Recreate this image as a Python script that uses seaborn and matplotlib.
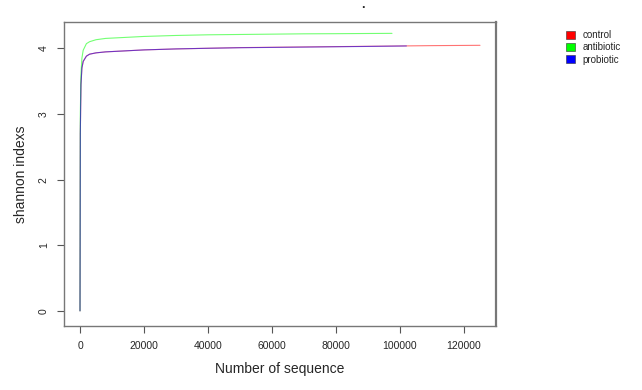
import numpy as np
import pandas as pd
import matplotlib
matplotlib.use("Agg")
import matplotlib.pyplot as plt
import seaborn as sns
from matplotlib.patches import Patch

# rarefaction curves
control_x = [1, 100, 300, 600, 1000, 2000, 3000, 5000, 8000, 12000, 20000, 30000,
             40000, 50000, 60000, 70000, 80000, 90000, 100000, 110000, 125000]
control_y = [0.0, 2.7, 3.45, 3.7, 3.8, 3.88, 3.91, 3.93, 3.945, 3.955, 3.975, 3.99,
             4.0, 4.01, 4.015, 4.02, 4.025, 4.03, 4.035, 4.04, 4.045]

antibiotic_x = [1, 100, 300, 600, 1000, 2000, 3000, 5000, 8000, 12000, 20000, 30000,
                40000, 50000, 60000, 70000, 80000, 90000, 97500]
antibiotic_y = [0.0, 3.0, 3.6, 3.85, 3.97, 4.07, 4.1, 4.13, 4.15, 4.16, 4.18, 4.195,
                4.205, 4.21, 4.215, 4.22, 4.222, 4.225, 4.227]

probiotic_x = [1, 100, 300, 600, 1000, 2000, 3000, 5000, 8000, 12000, 20000, 30000,
               40000, 50000, 60000, 70000, 80000, 90000, 102000]
probiotic_y = [0.0, 2.7, 3.45, 3.7, 3.8, 3.88, 3.91, 3.93, 3.945, 3.955, 3.975, 3.99,
               4.0, 4.008, 4.013, 4.018, 4.023, 4.028, 4.035]

groups = ["control", "antibiotic", "probiotic"]
colors = {"control": "#ff0000", "antibiotic": "#00ff00", "probiotic": "#0000ff"}

x_ticks = [0, 20000, 40000, 60000, 80000, 100000, 120000]
y_ticks = [0, 1, 2, 3, 4]

frames = []
for name, xs, ys in [("control", control_x, control_y),
                     ("antibiotic", antibiotic_x, antibiotic_y),
                     ("probiotic", probiotic_x, probiotic_y)]:
    frames.append(pd.DataFrame({"seqs": xs, "shannon": ys, "group": name}))
df = pd.concat(frames, ignore_index=True)

sns.set_style("white")
plt.rcParams["font.family"] = ["Liberation Sans", "DejaVu Sans"]

fig = plt.figure(figsize=(6.42, 3.9), dpi=100)
ax = fig.add_axes([64 / 642, 1 - 326 / 390, 432 / 642, 304 / 390])

sns.lineplot(data=df, x="seqs", y="shannon", hue="group", hue_order=groups,
             palette=colors, linewidth=0.8, alpha=0.55, legend=False,
             estimator=None, sort=False, ax=ax)

ax.set_xlim(-5000, 130000)
ax.set_ylim(-0.23, 4.4)
ax.set_xticks(x_ticks)
ax.set_xticklabels([str(t) for t in x_ticks], fontsize=7.5)
ax.set_yticks(y_ticks)
ax.set_yticklabels([str(t) for t in y_ticks], fontsize=7.5, rotation=90, va="center")
ax.tick_params(axis="both", direction="out", length=5, width=0.8, color="#555555",
               bottom=True, left=True, pad=6)

for side in ["top", "bottom", "left", "right"]:
    ax.spines[side].set_color("#777777")
    ax.spines[side].set_linewidth(1.0)
ax.spines["right"].set_linewidth(1.6)

ax.set_xlabel("Number of sequence", fontsize=10, labelpad=8)
ax.set_ylabel("shannon indexs", fontsize=10, labelpad=8)

fig.text(363 / 642, 1 - 5 / 390, ".", fontsize=9, ha="center", va="center",
         fontweight="bold")

handles = [Patch(facecolor=colors[g], edgecolor="#333333", linewidth=0.4, label=g)
           for g in groups]
fig.legend(handles=handles, loc="upper left", bbox_to_anchor=(562 / 642, 1 - 26 / 390),
           frameon=False, fontsize=7, handlelength=0.9, handleheight=0.9,
           handletextpad=0.8, labelspacing=0.25, borderaxespad=0)

fig.savefig("out.png", dpi=100)
